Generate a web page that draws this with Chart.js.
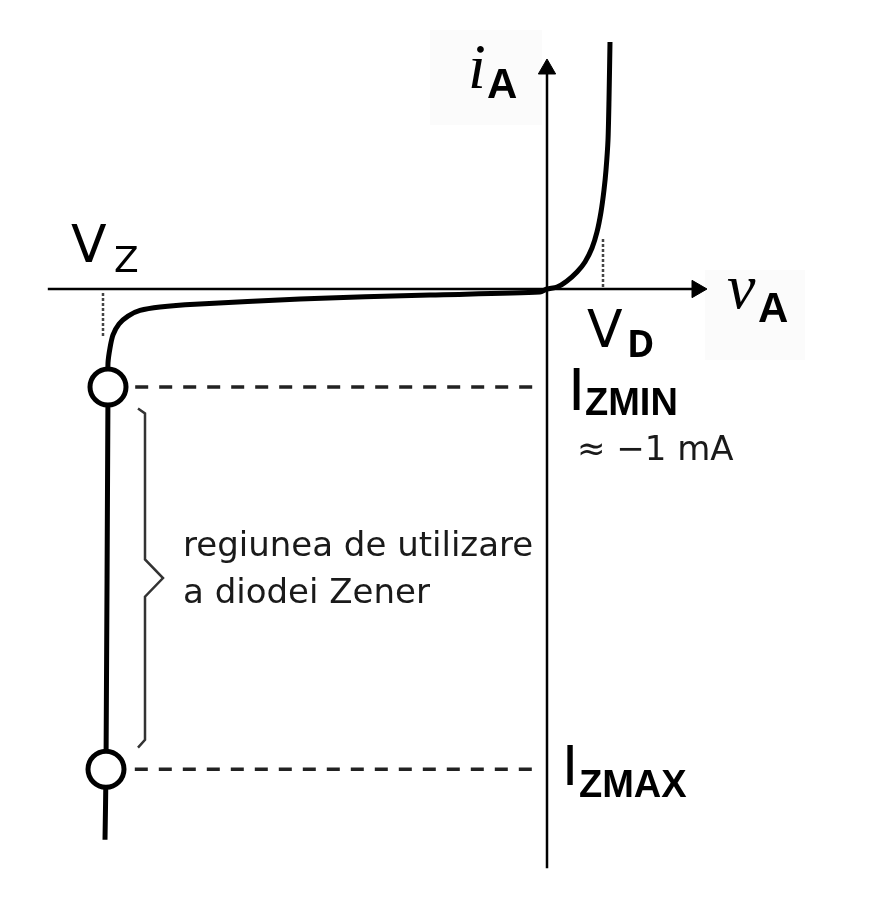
<!DOCTYPE html>
<html lang="ro">
<head>
    <meta charset="UTF-8">
    <title>Caracteristica diodei Zener</title>
    <style>
        body, html {
            margin: 0;
            padding: 0;
            background: #ffffff;
        }
        #wrap {
            width: 885px;
            height: 905px;
        }
    </style>
    <script src="https://cdn.jsdelivr.net/npm/chart.js"></script>
</head>
<body>
    <div id="wrap">
        <canvas id="zener" width="885" height="905"></canvas>
    </div>

    <script>
        // characteristic of the diode: voltage (V) and current (mA)
        const vA = [-5.525, -5.5125, -5.4875, -5.4875, -5.4625, -5.425, -5.35, -5.2375, -5.0875, -4.8375,
                    -4.4, -3.0875, -1.4625, -0.0875, 0, 0.125, 0.25, 0.375, 0.475,
                    0.5625, 0.625, 0.675, 0.7125, 0.7375, 0.7625, 0.775, 0.7875];
        const iA = [-5.62, -4.9, -1.0, -0.755, -0.602, -0.469, -0.357, -0.276, -0.219, -0.184,
                    -0.155, -0.102, -0.061, -0.031, 0, 0.02, 0.082, 0.173, 0.276,
                    0.418, 0.582, 0.786, 1.01, 1.214, 1.52, 1.929, 2.52];

        // marked values
        const VZ = -5.55;
        const VD = 0.7;
        const IZMIN = -1;
        const IZMAX = -4.9;

        // axis extents (data units)
        const vAxis = [-6.24, 1.875];
        const iAxis = [-5.91, 2.245];

        const pts = (xs, ys) => xs.map((v, k) => ({ x: v, y: ys[k] }));
        const curve = pts(vA, iA);
        const markerX = i => vA[iA.indexOf(i)];

        const braceTop = IZMIN - 0.22, braceBot = IZMAX + 0.22, braceMid = (braceTop + braceBot) / 2;

        // texts drawn on top, placed from the scales
        const textPlugin = {
            id: 'texts',
            beforeDatasetsDraw(chart) {
                const { ctx, scales: { x, y } } = chart;
                const X0 = x.getPixelForValue(0), Y0 = y.getPixelForValue(0);
                ctx.save();
                // faint label backgrounds
                ctx.fillStyle = '#fbfbfb';
                ctx.fillRect(X0 - 117, 30, 112, 95);
                ctx.fillRect(X0 + 158, Y0 - 19, 100, 90);
                ctx.restore();
            },
            afterDatasetsDraw(chart) {
                const { ctx, scales: { x, y } } = chart;
                const X0 = x.getPixelForValue(0), Y0 = y.getPixelForValue(0);
                const put = (txt, font, px, py, color) => {
                    ctx.font = font;
                    ctx.fillStyle = color || '#000';
                    ctx.fillText(txt, px, py);
                };
                ctx.save();
                ctx.textBaseline = 'alphabetic';
                ctx.textAlign = 'left';

                // i_A
                put('i', 'italic 64px "Liberation Serif"', X0 - 79, Y0 - 201);
                put('A', 'bold 42px "Liberation Sans"', X0 - 60, Y0 - 191);

                // v_A
                put('v', 'italic 64px "Liberation Serif"', X0 + 180, Y0 + 19);
                put('A', 'bold 42px "Liberation Sans"', X0 + 211, Y0 + 33);

                // V_Z
                const xz = x.getPixelForValue(VZ);
                put('V', '52px "DejaVu Sans"', xz - 32, Y0 - 27);
                put('Z', '36px "DejaVu Sans"', xz + 11, Y0 - 17);

                // V_D
                const xd = x.getPixelForValue(VD);
                put('V', '52px "DejaVu Sans"', xd - 16, Y0 + 58);
                put('D', 'bold 37px "Open Sans"', xd + 24, Y0 + 68);

                // I_ZMIN
                const ymin = y.getPixelForValue(IZMIN);
                put('I', '62px "Liberation Sans"', X0 + 21, ymin + 23);
                put('ZMIN', 'bold 38px "Liberation Sans"', X0 + 38, ymin + 28);
                put('\u2248 \u22121 mA', '34px "DejaVu Sans"', X0 + 30, ymin + 73, '#1a1a1a');

                // I_ZMAX
                const ymax = y.getPixelForValue(IZMAX);
                put('I', '58px "Liberation Sans"', X0 + 15, ymax + 16);
                put('ZMAX', 'bold 38px "Liberation Sans"', X0 + 32, ymax + 28);

                // region text
                const xb = x.getPixelForValue(-4.8);
                const ym = y.getPixelForValue(braceMid);
                put('regiunea de utilizare', '34px "DejaVu Sans"', xb + 20, ym - 22, '#1a1a1a');
                put('a diodei Zener', '34px "DejaVu Sans"', xb + 20, ym + 25, '#1a1a1a');
                ctx.restore();
            }
        };

        const ctx = document.getElementById('zener').getContext('2d');
        const zenerChart = new Chart(ctx, {
            type: 'scatter',
            data: {
                datasets: [
                    {
                        // diode curve with the IZMIN / IZMAX markers
                        data: curve,
                        showLine: true,
                        borderColor: '#000',
                        borderWidth: 5,
                        tension: 0.25,
                        pointRadius: c => (iA[c.dataIndex] === IZMIN || iA[c.dataIndex] === IZMAX) ? 18 : 0,
                        pointBackgroundColor: '#fff',
                        pointBorderColor: '#000',
                        pointBorderWidth: 5,
                        order: 0
                    },
                    {
                        // horizontal axis
                        data: [{ x: vAxis[0], y: 0 }, { x: vAxis[1], y: 0 }],
                        showLine: true,
                        borderColor: '#000',
                        borderWidth: 2.5,
                        pointRadius: 0,
                        order: 3
                    },
                    {
                        // vertical axis
                        data: [{ x: 0, y: iAxis[0] }, { x: 0, y: iAxis[1] }],
                        showLine: true,
                        borderColor: '#000',
                        borderWidth: 2.5,
                        pointRadius: 0,
                        order: 3
                    },
                    {
                        // arrow heads
                        data: [{ x: vAxis[1], y: 0 }, { x: 0, y: iAxis[1] }],
                        showLine: false,
                        pointStyle: 'triangle',
                        rotation: [90, 0],
                        pointRadius: 10,
                        pointBackgroundColor: '#000',
                        pointBorderColor: '#000',
                        pointBorderWidth: 1,
                        order: 3
                    },
                    {
                        // IZMIN dashed
                        data: [{ x: markerX(IZMIN) + 0.34, y: IZMIN }, { x: -0.09, y: IZMIN }],
                        showLine: true,
                        borderColor: '#222',
                        borderWidth: 3.5,
                        borderDash: [13, 11],
                        pointRadius: 0,
                        order: 2
                    },
                    {
                        // IZMAX dashed
                        data: [{ x: markerX(IZMAX) + 0.36, y: IZMAX }, { x: -0.09, y: IZMAX }],
                        showLine: true,
                        borderColor: '#222',
                        borderWidth: 3.5,
                        borderDash: [13, 11],
                        pointRadius: 0,
                        order: 2
                    },
                    {
                        // Vz dotted
                        data: [{ x: VZ, y: -0.04 }, { x: VZ, y: -0.5 }],
                        showLine: true,
                        borderColor: '#444',
                        borderWidth: 2.5,
                        borderDash: [3, 2],
                        pointRadius: 0,
                        order: 2
                    },
                    {
                        // VD dotted
                        data: [{ x: VD, y: 0.02 }, { x: VD, y: 0.52 }],
                        showLine: true,
                        borderColor: '#444',
                        borderWidth: 2.5,
                        borderDash: [3, 2],
                        pointRadius: 0,
                        order: 2
                    },
                    {
                        // brace
                        data: [
                            { x: -5.1125, y: braceTop },
                            { x: -5.025, y: braceTop - 0.05 },
                            { x: -5.025, y: braceMid + 0.19 },
                            { x: -4.8, y: braceMid },
                            { x: -5.025, y: braceMid - 0.19 },
                            { x: -5.025, y: braceBot + 0.08 },
                            { x: -5.1125, y: braceBot }
                        ],
                        showLine: true,
                        borderColor: '#333',
                        borderWidth: 2.5,
                        pointRadius: 0,
                        order: 2
                    }
                ]
            },
            options: {
                responsive: false,
                animation: false,
                layout: { padding: 0, autoPadding: false },
                scales: {
                    x: { type: 'linear', display: false, min: -6.8375, max: 4.225 },
                    y: { type: 'linear', display: false, min: -6.2857, max: 2.949 }
                },
                plugins: {
                    legend: { display: false },
                    tooltip: { enabled: false }
                }
            },
            plugins: [textPlugin]
        });
    </script>
</body>
</html>
